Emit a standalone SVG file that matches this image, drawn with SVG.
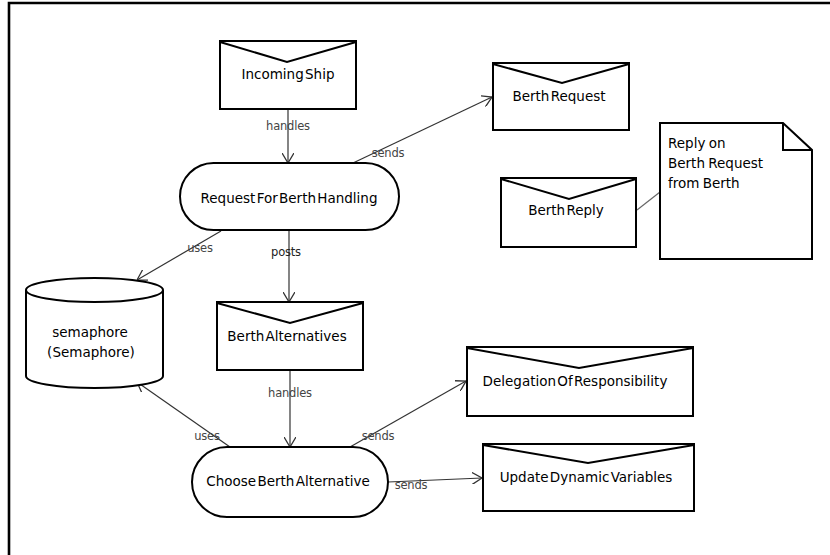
<svg xmlns="http://www.w3.org/2000/svg" width="830" height="555" viewBox="0 0 830 555">
  <style>
    .frame { fill: none; stroke: #000; stroke-width: 2.6; }
    .shape { fill: #fff; stroke: #000; stroke-width: 2; stroke-linejoin: miter; }
    .flap { fill: none; stroke: #000; stroke-width: 2; }
    .label { font-family: "DejaVu Sans", "Liberation Sans", sans-serif; font-size: 13.5px; fill: #000; text-anchor: middle; word-spacing: -3px; }
    .note-text { font-family: "DejaVu Sans", "Liberation Sans", sans-serif; font-size: 13.5px; fill: #000; word-spacing: -1px; }
    .edge { fill: none; stroke: #333; stroke-width: 1.2; }
    .edge-label { font-family: "DejaVu Sans", "Liberation Sans", sans-serif; font-size: 11.5px; fill: #444; text-anchor: middle; letter-spacing: -0.2px; }
  </style>
  <defs>
    <marker id="open-arrow" viewBox="0 0 10 12" refX="10" refY="6" markerWidth="10" markerHeight="12" markerUnits="userSpaceOnUse" orient="auto">
      <path d="M0,0 L10,6 L0,12" fill="none" stroke="#333" stroke-width="1.3"/>
    </marker>
  </defs>

  <!-- page edge: top and left only -->
  <polyline class="frame" points="9,555 9,3 830,3"/>

  <!-- connectors -->
  <g id="connectors">
    <line class="edge" x1="288" y1="109" x2="288" y2="163" marker-end="url(#open-arrow)"/>
    <text class="edge-label" x="288" y="130">handles</text>

    <line class="edge" x1="353" y1="163" x2="492" y2="97" marker-end="url(#open-arrow)"/>
    <text class="edge-label" x="388" y="157">sends</text>

    <line class="edge" x1="221" y1="231" x2="137" y2="280" marker-end="url(#open-arrow)"/>
    <text class="edge-label" x="200" y="252">uses</text>

    <line class="edge" x1="289" y1="230" x2="289" y2="302" marker-end="url(#open-arrow)"/>
    <text class="edge-label" x="286" y="256" style="fill:#222">posts</text>

    <line class="edge" x1="290" y1="370" x2="290" y2="447" marker-end="url(#open-arrow)"/>
    <text class="edge-label" x="290" y="397">handles</text>

    <line class="edge" x1="230" y1="447" x2="137" y2="382" marker-end="url(#open-arrow)"/>
    <text class="edge-label" x="207" y="440">uses</text>

    <line class="edge" x1="350" y1="447" x2="466" y2="381" marker-end="url(#open-arrow)"/>
    <text class="edge-label" x="378" y="440">sends</text>

    <line class="edge" x1="388" y1="482" x2="482" y2="478" marker-end="url(#open-arrow)"/>
    <text class="edge-label" x="411" y="489">sends</text>

    <line class="edge" x1="637" y1="210" x2="660" y2="192" style="stroke:#666"/>
  </g>

  <!-- message: IncomingShip -->
  <g id="incoming-ship">
    <rect class="shape" x="220" y="41" width="136" height="68"/>
    <polyline class="flap" points="220,42 287,62 356,42"/>
    <text class="label" x="288" y="79">Incoming Ship</text>
  </g>

  <!-- process: RequestForBerthHandling -->
  <g id="request-for-berth-handling">
    <rect class="shape" x="180" y="163" width="219" height="67" rx="33.5" ry="33.5"/>
    <text class="label" x="289" y="203">Request For Berth Handling</text>
  </g>

  <!-- message: BerthRequest -->
  <g id="berth-request">
    <rect class="shape" x="493" y="63" width="136" height="67"/>
    <polyline class="flap" points="493,64 562,83 629,64"/>
    <text class="label" x="559" y="101">Berth Request</text>
  </g>

  <!-- message: BerthReply -->
  <g id="berth-reply">
    <rect class="shape" x="501" y="178" width="135" height="69"/>
    <polyline class="flap" points="501,179 569,199 636,179"/>
    <text class="label" x="566" y="215">Berth Reply</text>
  </g>

  <!-- note attached to BerthReply -->
  <g id="reply-note">
    <path class="shape" d="M660,123 L783,123 L812,150 L812,259 L660,259 Z"/>
    <polyline class="flap" points="783,123 783,150 812,150"/>
    <text class="note-text" x="668" y="148">Reply on</text>
    <text class="note-text" x="668" y="168">Berth Request</text>
    <text class="note-text" x="668" y="188">from Berth</text>
  </g>

  <!-- data store: semaphore -->
  <g id="semaphore">
    <path class="shape" d="M26,290 A68.5,12 0 0 1 163,290 L163,376 A68.5,12 0 0 1 26,376 Z"/>
    <path class="flap" d="M26,290 A68.5,12 0 0 0 163,290"/>
    <text class="label" x="90" y="337">semaphore</text>
    <text class="label" x="91" y="357">(Semaphore)</text>
  </g>

  <!-- message: BerthAlternatives -->
  <g id="berth-alternatives">
    <rect class="shape" x="217" y="302" width="146" height="68"/>
    <polyline class="flap" points="217,303 290,323 363,303"/>
    <text class="label" x="287" y="341">Berth Alternatives</text>
  </g>

  <!-- process: ChooseBerthAlternative -->
  <g id="choose-berth-alternative">
    <rect class="shape" x="192" y="447" width="196" height="70" rx="35" ry="35"/>
    <text class="label" x="288" y="486">Choose Berth Alternative</text>
  </g>

  <!-- message: DelegationOfResponsibility -->
  <g id="delegation-of-responsibility">
    <rect class="shape" x="467" y="347" width="226" height="69"/>
    <polyline class="flap" points="467,348 579,368 693,348"/>
    <text class="label" x="575" y="386">Delegation Of Responsibility</text>
  </g>

  <!-- message: UpdateDynamicVariables -->
  <g id="update-dynamic-variables">
    <rect class="shape" x="483" y="444" width="211" height="67"/>
    <polyline class="flap" points="483,445 588,463 694,445"/>
    <text class="label" x="586" y="482">Update Dynamic Variables</text>
  </g>
</svg>
